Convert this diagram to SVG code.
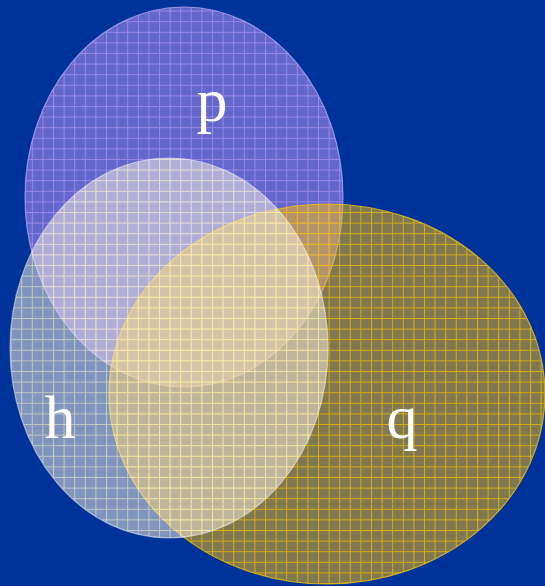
<svg xmlns="http://www.w3.org/2000/svg" width="545" height="586" viewBox="0 0 545 586">
<style>
.lbl{font-family:"Liberation Serif","DejaVu Serif",serif;font-size:62px;fill:#ffffff;text-anchor:middle}
</style>
<defs>
<pattern id="gp" width="10.6" height="10.6" patternUnits="userSpaceOnUse">
<path d="M0 0.5H10.6M0.5 0V10.6" stroke="#b898f4" stroke-width="1"/>
</pattern>
<pattern id="gq" width="10.6" height="10.6" patternUnits="userSpaceOnUse">
<path d="M0 0.5H10.6M0.5 0V10.6" stroke="#f2c000" stroke-width="1"/>
</pattern>
<pattern id="gh" width="10.6" height="10.6" patternUnits="userSpaceOnUse">
<path d="M0 0.5H10.6M0.5 0V10.6" stroke="#fffcc8" stroke-width="1"/>
</pattern>
</defs>
<rect width="545" height="586" fill="#003399"/>
<g id="p">
<ellipse cx="184" cy="197" rx="159" ry="190" fill="#a68cf0" opacity="0.6"/>
<ellipse cx="184" cy="197" rx="159" ry="190" fill="url(#gp)" opacity="0.65" stroke="#cbb8ff" stroke-width="1.2"/>
<text class="lbl" x="212" y="121">p</text>
</g>
<g id="q">
<ellipse cx="327" cy="394" rx="218" ry="190" fill="#ffbe0a" opacity="0.5"/>
<ellipse cx="327" cy="394" rx="218" ry="190" fill="url(#gq)" opacity="0.75" stroke="#ffc800" stroke-width="1.2"/>
<text class="lbl" x="402" y="438">q</text>
</g>
<g id="h">
<ellipse cx="169" cy="348" rx="159" ry="190" fill="#f5f0e1" opacity="0.52"/>
<ellipse cx="169" cy="348" rx="159" ry="190" fill="url(#gh)" opacity="0.5" stroke="#ffffff" stroke-width="1.2"/>
<text class="lbl" x="60" y="438">h</text>
</g>
<g id="connectors"></g>
</svg>
